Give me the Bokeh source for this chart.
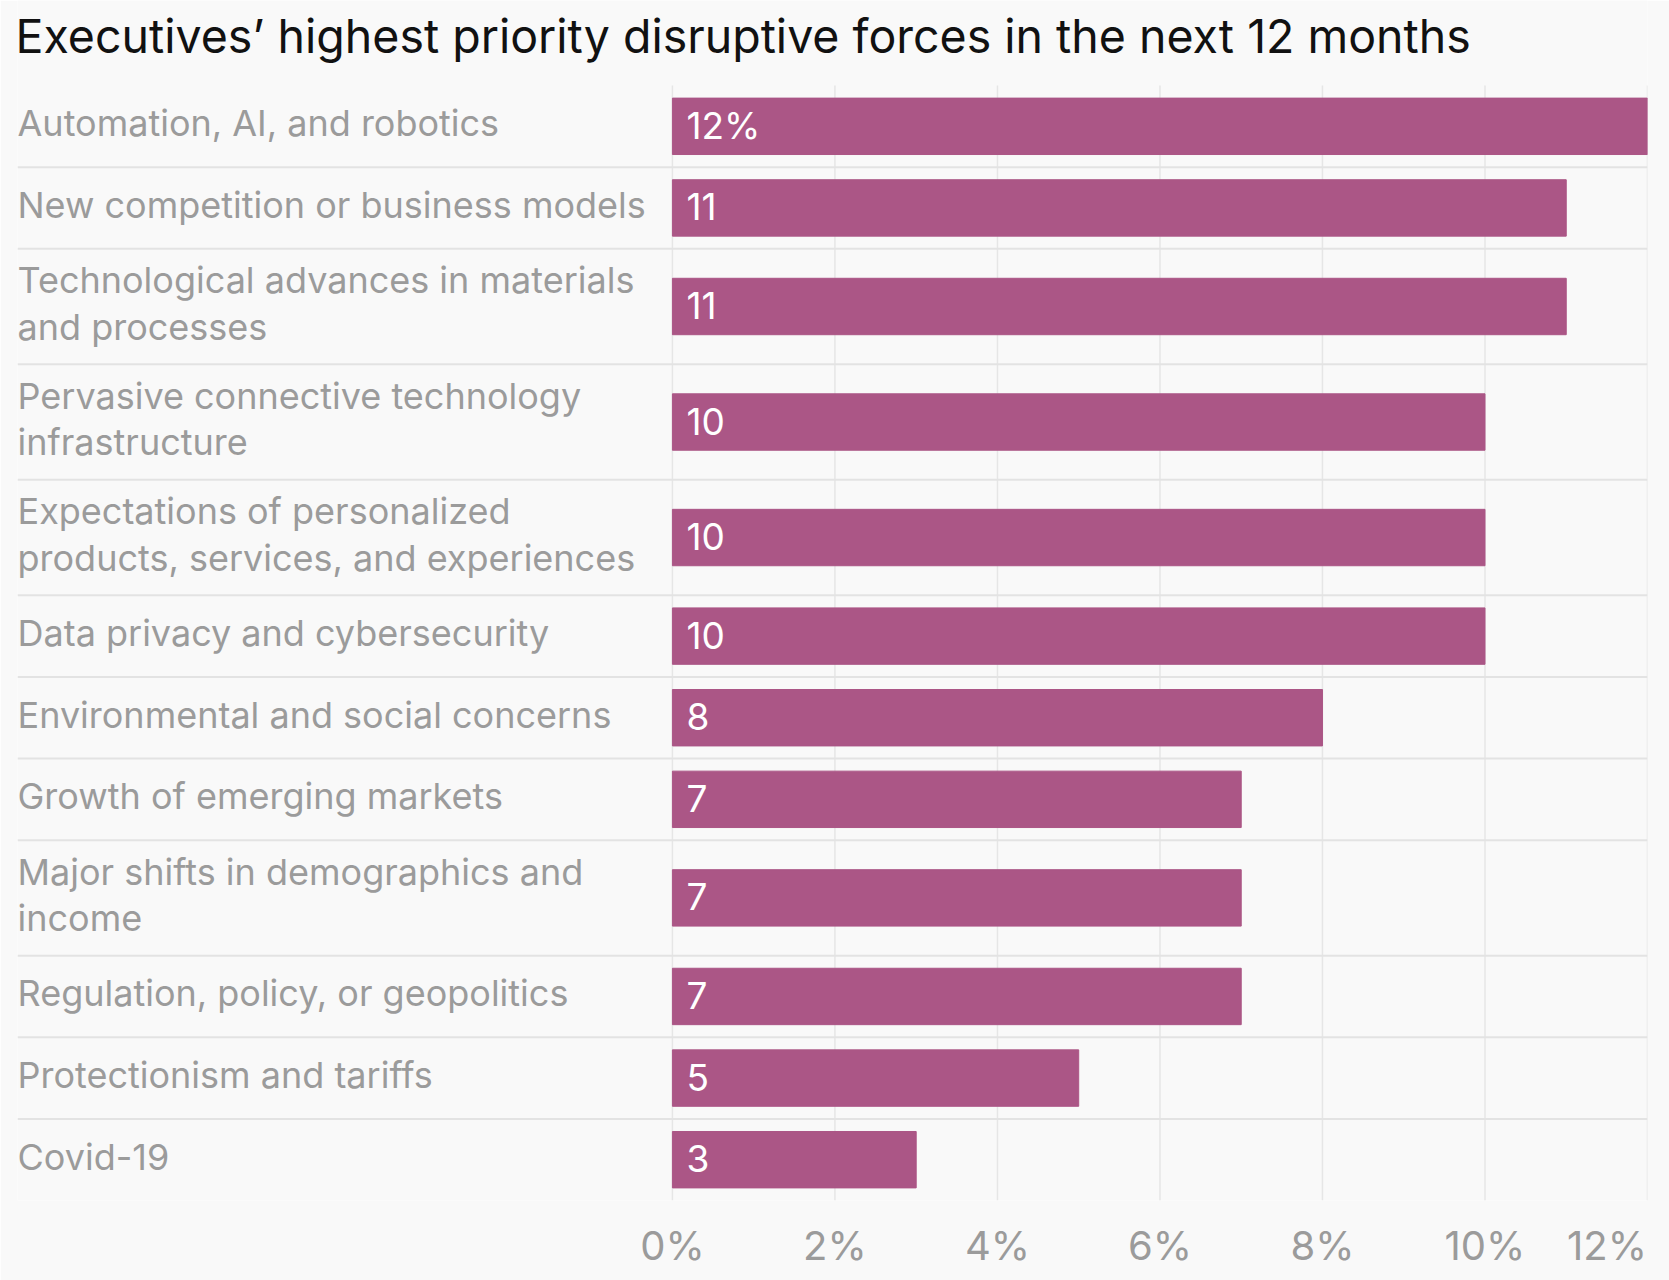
from bokeh.plotting import figure
from bokeh.models import Range1d, FixedTicker
from bokeh.core.properties import value
from bokeh.embed import file_html
from bokeh.resources import INLINE

# ---- data ----
categories = [
    "Automation, AI, and robotics",
    "New competition or business models",
    "Technological advances in materials\nand processes",
    "Pervasive connective technology\ninfrastructure",
    "Expectations of personalized\nproducts, services, and experiences",
    "Data privacy and cybersecurity",
    "Environmental and social concerns",
    "Growth of emerging markets",
    "Major shifts in demographics and\nincome",
    "Regulation, policy, or geopolitics",
    "Protectionism and tariffs",
    "Covid-19",
]
values = [12, 11, 11, 10, 10, 10, 8, 7, 7, 7, 5, 3]
bar_labels = ["12%"] + [str(v) for v in values[1:]]
tick_values = [0, 2, 4, 6, 8, 10, 12]
tick_labels = ["0%", "2%", "4%", "6%", "8%", "10%", "12%"]
title_text = "Executives\u2019 highest priority disruptive forces in the next 12 months"

# ---- layout (pixel-like y units, top to bottom) ----
ROW_H = 81.6
EXTRA_LINE_H = 33.9
BAR_H = 56.4
HEADER_H = 85          # space for the title above the first row
TITLE_CENTER = 35      # from the top of the chart
FONT = "Inter"
BG = "#f9f9f9"
GRID = "#e6e6e6"
LABEL_GRAY = "#9b9b9b"
BAR_COLOR = "#ab5686"

heights = [ROW_H + EXTRA_LINE_H * (c.count("\n")) for c in categories]
tops = []
acc = 0.0
for h in heights:
    tops.append(acc)
    acc += h
total = acc
centers = [t + h / 2 for t, h in zip(tops, heights)]
separators = tops[1:]

X_START = -8.06
X_END = tick_values[-1]

W, H = 1669, 1280
p = figure(width=W, height=H, output_backend="svg", toolbar_location=None,
           x_range=Range1d(X_START, X_END), y_range=Range1d(total, -HEADER_H),
           min_border_left=17, min_border_right=22, min_border_top=0,
           min_border_bottom=80)

p.background_fill_color = BG
p.border_fill_color = BG
p.outline_line_color = None

# axes
p.yaxis.visible = False
p.ygrid.visible = False
p.xgrid.visible = False
ax = p.xaxis[0]
ax.ticker = FixedTicker(ticks=tick_values)
# last label is pushed left so that it ends at the frame edge
ax.major_label_overrides = {
    t: (lab if t != X_END else lab + "\u00a0" * 2) for t, lab in zip(tick_values, tick_labels)
}
ax.axis_line_color = None
ax.major_tick_line_color = None
ax.minor_tick_line_color = None
ax.major_tick_out = 0
ax.major_label_standoff = 20
ax.major_label_text_font = FONT
ax.major_label_text_font_size = "40px"
ax.major_label_text_color = LABEL_GRAY

# vertical grid lines (only over the rows)
p.segment(x0=tick_values, x1=tick_values, y0=[0] * len(tick_values),
          y1=[total] * len(tick_values), line_color=GRID, line_width=1.5)

# row separators
p.segment(x0=[X_START] * len(separators), x1=[X_END] * len(separators),
          y0=separators, y1=separators, line_color="#e3e3e3", line_width=2)

# bars
p.hbar(y=centers, left=0, right=values, height=BAR_H, color=BAR_COLOR)

# bar value labels
p.text(x=[0] * len(values), y=centers, text=bar_labels, x_offset=14, y_offset=-1,
       text_font=value(FONT), text_font_size="37px", text_color="white",
       text_align="left", text_baseline="middle")

# category labels
p.text(x=[X_START] * len(categories), y=centers, text=categories, y_offset=-3,
       text_font=value(FONT), text_font_size="36px", text_color=LABEL_GRAY,
       text_align="left", text_baseline="middle", text_line_height=1.05)

# title
p.text(x=[X_START], y=[TITLE_CENTER - HEADER_H], text=[title_text], x_offset=-2,
       text_font=value(FONT), text_font_size="46.5px", text_color="#111111",
       text_align="left", text_baseline="middle")

open("out.html", "w").write(file_html(p, INLINE))
